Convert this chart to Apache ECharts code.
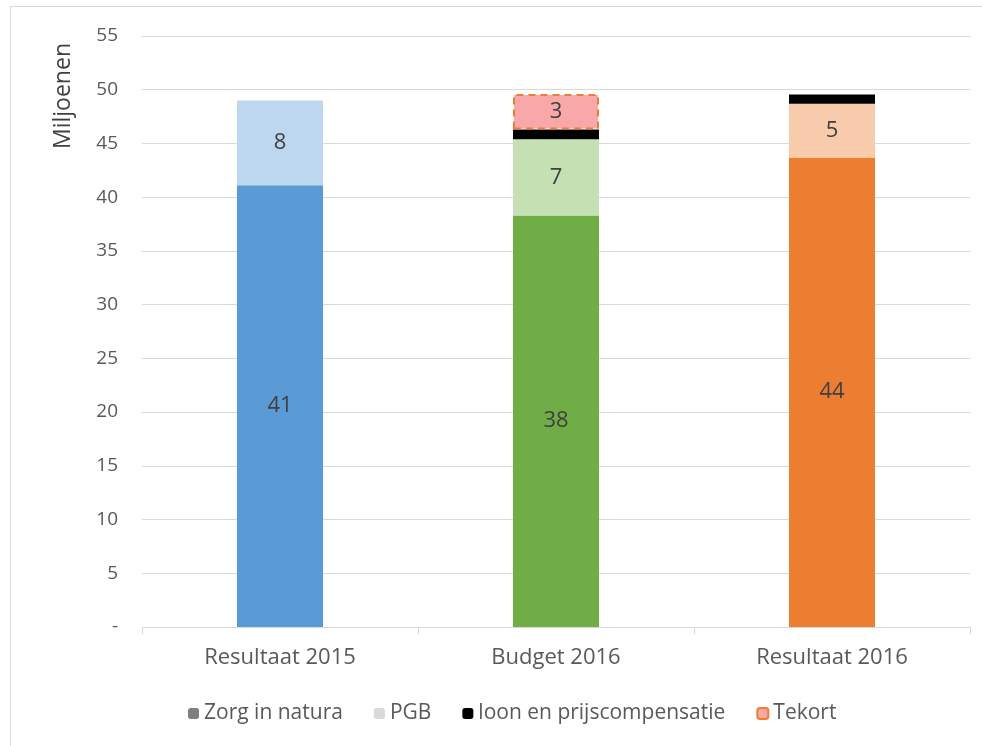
<!DOCTYPE html>
<html>
<head>
<meta charset="utf-8">
<script src="https://cdn.jsdelivr.net/npm/echarts@6/dist/echarts.min.js"></script>
<style>
  html, body { margin: 0; padding: 0; background: #fff; }
  #frame { position: absolute; left: 10px; top: 6px; width: 990px; height: 760px; border: 1px solid #d9d9d9; }
  #main { position: absolute; left: 0; top: 0; width: 982px; height: 746px; }
</style>
</head>
<body>
<div id="frame"></div>
<div id="main"></div>
<script>
// categorieen
var categories = ["Resultaat 2015", "Budget 2016", "Resultaat 2016"];
// waarden in miljoenen
var zorgInNatura = [41.1, 38.3, 43.7];
var pgb = [7.9, 7.1, 5.0];
var loonEnPrijs = [0, 0.9, 0.85];
var tekort = [0, 3.3, 0];
var yTicks = [0, 5, 10, 15, 20, 25, 30, 35, 40, 45, 50, 55];

var darkColors = ["#5b9bd5", "#70ad47", "#ed7d31"];
var lightColors = ["#bdd7ee", "#c5e0b3", "#f8cbad"];

var labelStyle = {
  show: true,
  position: "inside",
  color: "#404040",
  fontSize: 22,
  fontFamily: "Open Sans",
  formatter: function (p) { return p.value >= 2 ? Math.round(p.value) : ""; }
};

function colored(values, colors) {
  return values.map(function (v, i) {
    return { value: v, itemStyle: { color: colors[i] } };
  });
}
// lege stukken niet tekenen
function skipZero(values) {
  return values.map(function (v) { return v === 0 ? "-" : v; });
}

var myChart = echarts.init(document.getElementById("main"));
var option = {
  animation: false,
  textStyle: { fontFamily: "Open Sans" },
  grid: { left: 142, right: 12, top: 36, bottom: 119 },
  legend: {
    bottom: 17,
    left: 183,
    itemWidth: 11,
    itemHeight: 11,
    itemGap: 31,
    textStyle: { color: "#595959", fontSize: 21, fontFamily: "Open Sans" },
    data: ["Zorg in natura", "PGB", "loon en prijscompensatie", "Tekort"]
  },
  graphic: [{
    type: "text",
    left: 52,
    top: 43,
    rotation: Math.PI / 2,
    style: { text: "Miljoenen", fill: "#404040", fontSize: 23, fontFamily: "Open Sans" }
  }],
  xAxis: {
    type: "category",
    data: categories,
    axisLine: { lineStyle: { color: "#d9d9d9" } },
    axisTick: { show: true, length: 7, lineStyle: { color: "#d9d9d9" } },
    axisLabel: { color: "#595959", fontSize: 22, margin: 20 }
  },
  yAxis: {
    type: "value",
    min: yTicks[0],
    max: yTicks[yTicks.length - 1],
    interval: 5,
    axisLine: { show: false },
    axisTick: { show: false },
    splitLine: { lineStyle: { color: "#d9d9d9" } },
    axisLabel: {
      color: "#595959",
      fontSize: 19,
      margin: 24,
      formatter: function (v) { return v === 0 ? "-" : v; }
    }
  },
  series: [
    {
      name: "Zorg in natura",
      type: "bar",
      stack: "totaal",
      barWidth: 86,
      itemStyle: { color: "#7f7f7f" },
      label: labelStyle,
      data: colored(zorgInNatura, darkColors)
    },
    {
      name: "PGB",
      type: "bar",
      stack: "totaal",
      itemStyle: { color: "#d9d9d9" },
      label: labelStyle,
      data: colored(pgb, lightColors)
    },
    {
      name: "loon en prijscompensatie",
      type: "bar",
      stack: "totaal",
      itemStyle: { color: "#000000" },
      label: { show: false },
      data: skipZero(loonEnPrijs)
    },
    {
      name: "Tekort",
      type: "bar",
      stack: "totaal",
      itemStyle: {
        color: "#f8a8a8",
        borderColor: "#ed7d31",
        borderWidth: 2,
        borderType: [7, 5]
      },
      label: labelStyle,
      data: skipZero(tekort)
    }
  ]
};
myChart.setOption(option);
</script>
</body>
</html>
